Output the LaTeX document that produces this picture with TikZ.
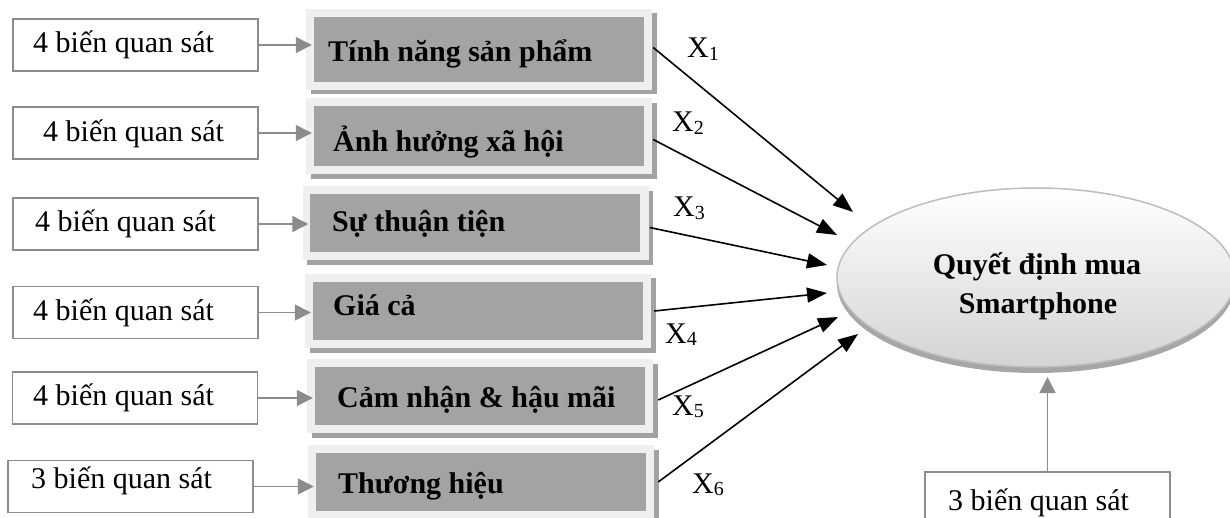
\documentclass[tikz,border=0pt]{standalone}
\usepackage{fontspec}
\setmainfont{Liberation Serif}
\usetikzlibrary{arrows.meta,shapes.geometric,shadows}
\definecolor{framegray}{HTML}{EFEFEF}
\definecolor{innergray}{HTML}{A3A3A3}
\definecolor{shadowgray}{HTML}{A2A2A2}
\definecolor{linkgray}{HTML}{8C8C8C}
\definecolor{ellborder}{HTML}{BDBDBD}
\newcommand{\xlab}[1]{X\raisebox{-2.5pt}{\fontsize{20}{20}\selectfont #1}}
\begin{document}
\begin{tikzpicture}[x=1pt,y=-1pt,
  wbox/.style={draw=linkgray, line width=1.6pt, fill=white, minimum width=245pt, minimum height=52pt, inner sep=0pt},
  gbox/.style={fill=framegray, minimum width=346pt, minimum height=76pt, inner sep=0pt,
    drop shadow={shadow xshift=4.5pt, shadow yshift=-4.5pt, fill=shadowgray, opacity=1},
    path picture={\fill[innergray] ([shift={(7.5pt,-8pt)}]path picture bounding box.north west) rectangle ([shift={(-8.5pt,8pt)}]path picture bounding box.south east);}},
  txt/.style={anchor=base west, inner sep=0pt, font=\fontsize{30}{34}\selectfont},
  btxt/.style={anchor=base west, inner sep=0pt, font=\fontsize{30}{34}\selectfont\bfseries},
  ctxt/.style={anchor=base, inner sep=0pt, font=\fontsize{30}{34}\selectfont\bfseries},
  link/.style={draw=linkgray, line width=1.3pt, -{Triangle[length=16pt,width=16pt]}},
  arr/.style={draw=black, line width=1.6pt, -{Triangle[length=20pt,width=15pt]}}
]
\useasboundingbox (0,0) rectangle (1230,518);
\clip (0,0) rectangle (1230,518);

% left white boxes
\node[wbox] (w1) at (135.5,45) {};
\node[wbox] (w2) at (135.5,133) {};
\node[wbox] (w3) at (135.5,224) {};
\node[wbox] (w4) at (135.5,312.5) {};
\node[wbox] (w5) at (135,398) {};
\node[wbox] (w6) at (130.5,486.5) {};
\node[txt] (l1) at (33,53) {4 biến quan sát};
\node[txt] (l2) at (43,142) {4 biến quan sát};
\node[txt] (l3) at (35,232) {4 biến quan sát};
\node[txt] (l4) at (33,320) {4 biến quan sát};
\node[txt] (l5) at (33,405) {4 biến quan sát};
\node[txt] (l6) at (31,488) {3 biến quan sát};

% gray factor boxes
\node[gbox, minimum height=81pt] (g1) at (479,49.5) {};
\node[gbox] (g2) at (479,136.5) {};
\node[gbox, minimum height=74pt] (g3) at (475.5,223.5) {};
\node[gbox, minimum height=74pt] (g4) at (478,311) {};
\node[gbox, minimum height=74pt] (g5) at (480,396) {};
\node[gbox, minimum height=74pt] (g6) at (481,482) {};
\node[btxt] (t1) at (328,62) {Tính năng sản phẩm};
\node[btxt] (t2) at (333,152) {Ảnh hưởng xã hội};
\node[btxt] (t3) at (332,232) {Sự thuận tiện};
\node[btxt] (t4) at (333,315) {Giá cả};
\node[btxt] (t5) at (337,407) {Cảm nhận \& hậu mãi};
\node[btxt] (t6) at (338,493) {Thương hiệu};

% gray arrows
\foreach \i in {1,...,6}{
  \draw[link, shorten >=-6pt] (w\i.east) -- (w\i.east -| g\i.west);
}

% ellipse
\node[ellipse, draw=ellborder, line width=1.5pt, minimum width=398pt, minimum height=179pt, inner sep=0pt,
  top color=white, bottom color=black!17,
  drop shadow={shadow xshift=0pt, shadow yshift=-6pt, fill=black!35, opacity=1}] (E) at (1036,277.5) {};
\node[ctxt] (q1) at (1037,275) {Quyết định mua};
\node[ctxt] (q2) at (1038,313) {Smartphone};

% bottom box
\node[wbox, minimum width=245pt, minimum height=70pt] (b) at (1047.5,507) {};
\node[txt] (lb) at (948,510) {3 biến quan sát};
\coordinate (e7) at (1047.5,377);
\draw[link] (b.north) -- (e7);

% black arrows
\coordinate (e1) at (853,212);
\coordinate (e2) at (837,235);
\coordinate (e3) at (827,265);
\coordinate (e4) at (827,293);
\coordinate (e5) at (838,317);
\coordinate (e6) at (858,334);
\draw[arr] ([xshift=1pt,yshift=2pt]g1.east) -- (e1);
\draw[arr] ([xshift=1pt,yshift=-3pt]g2.east) -- (e2);
\draw[arr] ([xshift=1pt,yshift=-4pt]g3.east) -- (e3);
\draw[arr] ([xshift=3pt]g4.east) -- (e4);
\draw[arr] ([xshift=5pt,yshift=-4pt]g5.east) -- (e5);
\draw[arr] ([xshift=4pt]g6.east) -- (e6);

% path labels
\node[txt] (x1) at (687,58) {\xlab{1}};
\node[txt] (x2) at (672,132) {\xlab{2}};
\node[txt] (x3) at (673,217) {\xlab{3}};
\node[txt] (x4) at (665,343) {\xlab{4}};
\node[txt] (x5) at (672,415) {\xlab{5}};
\node[txt] (x6) at (692,493) {\xlab{6}};
\end{tikzpicture}
\end{document}
